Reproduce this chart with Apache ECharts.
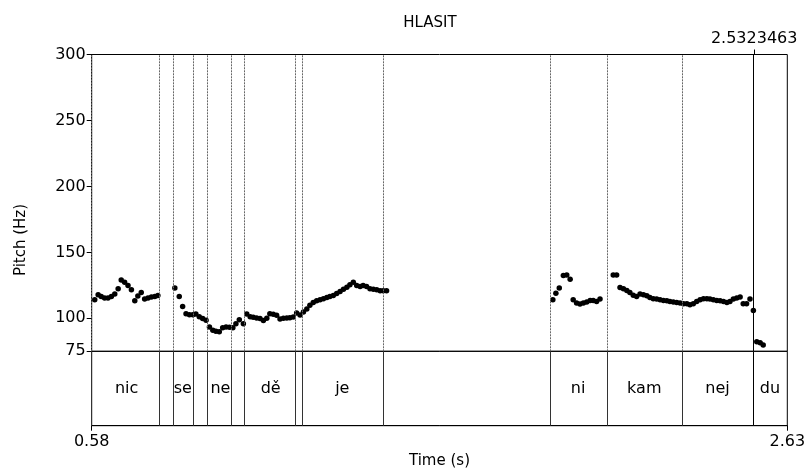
<!DOCTYPE html>
<html><head><meta charset="utf-8">
<script src="https://cdn.jsdelivr.net/npm/echarts@6/dist/echarts.min.js"></script>
<style>html,body{margin:0;padding:0;background:#fff}#c{width:808px;height:468px}</style>
</head><body><div id="c"></div>
<script>
const titleText = 'HLASIT';
const xName = 'Time (s)';
const yName = 'Pitch (Hz)';
const tMin = 0.58, tMax = 2.63;
const xTickLabels = [0.58, 2.63];
const yTicks = [75, 100, 150, 200, 250, 300];
const cursorTime = 2.5323463;
const boundaries = [0.585, 0.781, 0.821, 0.876, 0.924, 0.995, 1.033, 1.182, 1.201, 1.436, 1.931, 2.096, 2.321, 2.528];
const tierLabels = ['nic', 'se', 'ne', 'dě', 'je', 'ni', 'kam', 'nej', 'du'];
const tierStarts = [0.585, 0.821, 0.924, 1.033, 1.201, 1.931, 2.096, 2.321, 2.528];
const tierEnds   = [0.781, 0.876, 0.995, 1.182, 1.436, 2.096, 2.321, 2.528, 2.63];

const pitchTimes = [
  0.589,0.599,0.608,0.618,0.628,0.638,0.648,0.658,0.667,0.677,0.687,0.697,0.707,0.716,0.726,0.736,0.746,0.756,0.766,0.775,
  0.825,0.838,0.848,0.858,0.868,0.878,0.887,0.897,0.907,0.917,0.927,0.937,0.946,0.956,0.966,0.976,0.986,0.996,1.005,1.015,1.027,
  1.037,1.047,1.056,1.066,1.076,1.086,1.096,1.105,1.115,1.125,1.135,1.145,1.155,1.164,1.174,1.184,1.194,
  1.204,1.214,1.223,1.233,1.243,1.253,1.263,1.273,1.282,1.292,1.302,1.312,1.322,1.332,1.341,1.351,1.361,1.371,1.380,1.390,1.400,1.410,1.420,1.430,1.439,1.449,
  1.939,1.948,1.958,1.970,1.980,1.990,1.999,2.009,2.019,2.029,2.039,2.049,2.058,2.068,2.078,
  2.117,2.127,2.137,2.147,2.157,2.166,2.176,2.186,2.196,2.206,2.216,2.225,2.235,2.245,2.255,2.265,2.275,2.284,2.294,2.304,2.314,2.324,2.334,2.343,2.353,2.363,2.373,2.383,2.393,2.402,2.412,2.422,2.432,2.442,2.452,2.461,2.471,2.481,2.491,2.500,2.510,2.520,2.530,2.540,2.550,2.559
];
const pitchHz = [
  114.1,117.8,116.6,115.4,115.4,116.6,118.4,122.4,129.1,127.4,124.8,121.6,113.3,117.0,119.5,114.6,115.4,116.1,116.6,117.3,
  122.9,116.6,109.0,103.5,102.8,102.8,103.3,101.1,99.8,98.5,93.5,91.0,90.2,89.8,92.8,93.5,93.2,92.8,95.8,99.0,95.8,
  103.3,101.1,100.8,100.3,99.8,98.3,100.0,103.5,103.0,102.3,99.5,100.0,100.3,100.5,101.0,104.0,102.5,
  104.8,107.0,110.0,112.0,113.3,114.1,114.8,115.8,116.6,117.3,118.8,120.3,122.1,123.6,125.4,127.4,124.8,124.1,124.8,124.1,122.4,122.1,121.6,120.9,120.9,120.9,
  114.1,119.1,122.9,132.4,132.9,129.7,114.1,111.6,110.8,111.6,112.3,113.6,113.6,112.8,114.6,
  132.9,132.9,123.3,122.4,121.1,119.6,117.5,116.6,118.4,117.8,117.1,115.8,114.8,114.6,114.1,113.6,113.3,112.8,112.3,112.0,111.6,111.1,111.1,110.3,111.1,112.8,114.1,114.8,114.8,114.6,114.1,113.6,113.3,112.8,112.0,112.8,114.6,115.4,116.1,111.1,111.1,114.6,106.0,82.2,81.5,79.7
];

const FONT = 'DejaVu Sans';
const pitchData = pitchTimes.map((t, i) => [t, pitchHz[i]]);
const tierData = tierLabels.map((s, i) => [(tierStarts[i] + tierEnds[i]) / 2, 0.5, s]);

const G0 = {left: 91.7, top: 54.5, width: 695.6, height: 296.8};
const G1 = {left: 91.7, top: 351.3, width: 695.6, height: 74.4};

const chart = echarts.init(document.getElementById('c'), null, {renderer: 'canvas'});
chart.setOption({
  animation: false,
  backgroundColor: '#fff',
  textStyle: {fontFamily: FONT, color: '#000'},
  title: {text: titleText, left: 425, top: 11, textAlign: 'center',
    textStyle: {fontFamily: FONT, fontSize: 15, fontWeight: 'normal', color: '#000'}},
  graphic: [{type: 'text', x: 21, y: 240, rotation: Math.PI / 2,
    style: {text: yName, font: '15px "' + FONT + '"', fill: '#000', align: 'center', verticalAlign: 'middle'}}],
  grid: [
    Object.assign({show: true, borderColor: '#000', borderWidth: 1, outerBoundsMode: 'none', containLabel: false}, G0),
    Object.assign({show: true, borderColor: '#000', borderWidth: 1, outerBoundsMode: 'none', containLabel: false}, G1)
  ],
  xAxis: [
    {type: 'value', gridIndex: 0, min: tMin, max: tMax, show: false},
    {type: 'value', gridIndex: 0, min: tMin, max: tMax, position: 'top',
      axisLine: {show: false}, splitLine: {show: false},
      axisTick: {show: true, customValues: [cursorTime], length: 5, lineStyle: {color: '#000'}},
      axisLabel: {show: true, customValues: [cursorTime], formatter: v => String(v), fontSize: 16, fontFamily: FONT, color: '#000', margin: 8}},
    {type: 'value', gridIndex: 1, min: tMin, max: tMax, position: 'bottom',
      name: xName, nameLocation: 'middle', nameGap: 28, nameTextStyle: {fontSize: 15, fontFamily: FONT, color: '#000'},
      axisLine: {show: true, lineStyle: {color: '#000'}}, splitLine: {show: false},
      axisTick: {show: true, customValues: xTickLabels, length: 5, lineStyle: {color: '#000'}},
      axisLabel: {show: true, customValues: xTickLabels, formatter: v => String(v), fontSize: 16, fontFamily: FONT, color: '#000', margin: 8}}
  ],
  yAxis: [
    {type: 'value', gridIndex: 0, min: 75, max: 300,
      axisLine: {show: true, lineStyle: {color: '#000'}}, splitLine: {show: false},
      axisTick: {show: true, customValues: yTicks, length: 5, lineStyle: {color: '#000'}},
      axisLabel: {show: true, customValues: yTicks, fontSize: 16, fontFamily: FONT, color: '#000', margin: 6}},
    {type: 'value', gridIndex: 1, min: 0, max: 1, show: false}
  ],
  series: [
    {type: 'scatter', xAxisIndex: 0, yAxisIndex: 0, data: pitchData, symbol: 'circle', symbolSize: 5.5,
      itemStyle: {color: '#000', opacity: 1}, silent: true,
      markLine: {silent: true, symbol: 'none', label: {show: false},
        data: boundaries.map(b => ({xAxis: b, lineStyle: {type: [2, 1], color: '#666', width: 1}}))
          .concat([{xAxis: cursorTime, lineStyle: {type: 'solid', color: '#000', width: 1}}])}},
    {type: 'scatter', xAxisIndex: 2, yAxisIndex: 1, data: tierData, symbolSize: 0, silent: true,
      itemStyle: {opacity: 1},
      label: {show: true, position: 'inside', formatter: p => p.data[2], fontSize: 16, fontFamily: FONT, color: '#000', opacity: 1},
      markLine: {silent: true, symbol: 'none', label: {show: false},
        data: boundaries.map(b => ({xAxis: b, lineStyle: {type: 'solid', color: '#333', width: 1}}))
          .concat([{xAxis: cursorTime, lineStyle: {type: 'solid', color: '#000', width: 1}}])}}
  ]
});
</script></body></html>
